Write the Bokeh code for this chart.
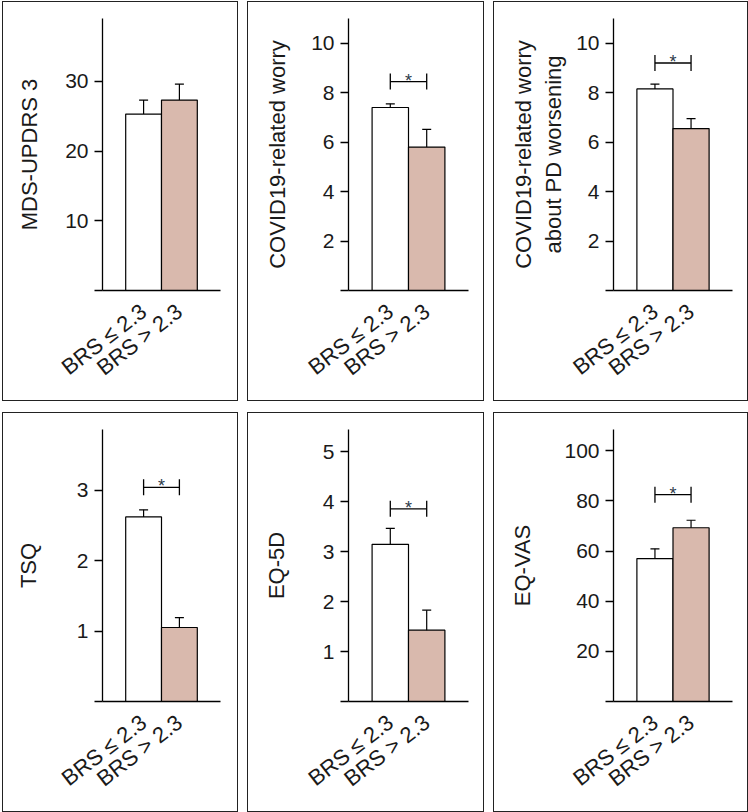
from bokeh.plotting import figure
from bokeh.models import LinearAxis, Range1d, FixedTicker
from bokeh.layouts import row, column
from bokeh.core.properties import value
from bokeh.embed import file_html
from bokeh.resources import INLINE

# ---- data ----
groups = ["BRS ≤ 2.3", "BRS > 2.3"]
positions = [1, 2]
bar_colors = ["#ffffff", "#d9b9ad"]

titles = ["MDS-UPDRS 3", "COVID19-related worry",
          "COVID19-related worry\nabout PD worsening", "TSQ", "EQ-5D", "EQ-VAS"]
means = [[25.3, 27.3], [7.4, 5.8], [8.15, 6.55], [2.62, 1.05], [3.15, 1.43], [57.0, 69.3]]
errors = [[2.0, 2.3], [0.15, 0.72], [0.2, 0.4], [0.1, 0.14], [0.32, 0.4], [3.9, 3.0]]
signif = [None, 8.45, 9.2, 3.04, 3.86, 82.5]
y_max = [39, 11.0, 11.0, 3.86, 5.45, 108.5]
y_ticks = [[10, 20, 30], [2, 4, 6, 8, 10], [2, 4, 6, 8, 10], [1, 2, 3], [1, 2, 3, 4, 5],
           [20, 40, 60, 80, 100]]

# ---- layout ----
col_w = [236, 237, 255]
border_l = [99, 100, 119]
border_r = [19, 17, 17]
label_standoff = [20, 18, 7, 33, 31, 26]
FONT = "Liberation Sans"
TXT = "#1a1a1a"


def panel(i):
    c = i % 3
    p = figure(width=col_w[c], height=400,
               x_range=Range1d(-0.148, 3.148), y_range=Range1d(0, y_max[i]),
               x_axis_type=None, y_axis_type=None,
               output_backend="svg", toolbar_location=None,
               min_border_left=border_l[c], min_border_right=border_r[c],
               min_border_top=16, min_border_bottom=112)
    p.outline_line_color = None
    p.background_fill_color = "white"
    p.border_fill_color = "white"
    p.xgrid.visible = False
    p.ygrid.visible = False
    p.styles = {"border": "1px solid #222222"}

    ya = LinearAxis(ticker=FixedTicker(ticks=[0] + y_ticks[i]),
                    major_label_overrides={0: ""},
                    axis_label=titles[i])
    ya.major_tick_out = 8
    ya.major_tick_in = 0
    ya.minor_tick_out = 0
    ya.minor_tick_in = 0
    ya.major_tick_line_width = 1.3
    ya.axis_line_width = 1.3
    ya.major_label_standoff = 6
    ya.major_label_text_font = FONT
    ya.major_label_text_font_size = "21px"
    ya.major_label_text_color = TXT
    ya.axis_label_text_font = FONT
    ya.axis_label_text_font_size = "22px"
    ya.axis_label_text_font_style = "normal"
    ya.axis_label_text_color = TXT
    ya.axis_label_standoff = label_standoff[i]
    p.add_layout(ya, "left")

    xa = LinearAxis(ticker=FixedTicker(ticks=positions),
                    major_label_overrides={positions[k]: groups[k] for k in range(2)})
    xa.major_tick_out = 0
    xa.major_tick_in = 0
    xa.minor_tick_out = 0
    xa.minor_tick_in = 0
    xa.axis_line_width = 1.3
    xa.major_label_orientation = 0.66
    xa.major_label_standoff = 18
    xa.major_label_text_font = FONT
    xa.major_label_text_font_size = "22px"
    xa.major_label_text_color = TXT
    p.add_layout(xa, "below")

    m = means[i]
    e = errors[i]
    tops = [m[k] + e[k] for k in range(2)]
    p.vbar(x=positions, top=m, bottom=0, width=1.0, fill_color=bar_colors,
           line_color="black", line_width=1.2)
    p.segment(x0=positions, x1=positions, y0=m, y1=tops, line_color="black", line_width=1.2)
    p.scatter(x=positions, y=tops, marker="dash", size=9, line_color="black", line_width=1.2)

    if signif[i] is not None:
        s = signif[i]
        p.segment(x0=[positions[0]], x1=[positions[1]], y0=[s], y1=[s],
                  line_color="black", line_width=1.3)
        p.scatter(x=positions, y=[s, s], marker="dash", angle=1.5708, size=16,
                  line_color="black", line_width=1.3)
        p.text(x=[(positions[0] + positions[1]) / 2], y=[s], text=["*"],
               text_align="center", text_baseline="alphabetic", y_offset=-1,
               text_font=value(FONT), text_font_size="18px", text_color="#2d3a4a")
    return p


figs = [panel(i) for i in range(6)]
layout = column(row(figs[0:3], spacing=9), row(figs[3:6], spacing=9), spacing=11)
layout.styles = {"margin-left": "2px", "margin-top": "1px"}

open("out.html", "w").write(file_html(layout, INLINE))
